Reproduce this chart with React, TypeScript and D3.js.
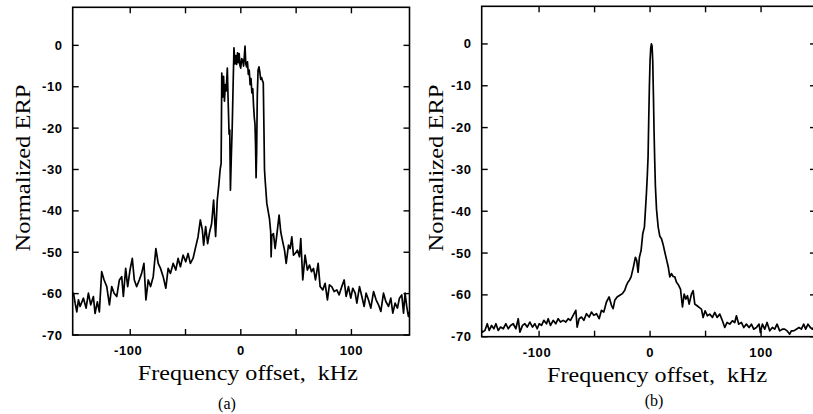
import React from "react";
import * as d3 from "d3";

// ---- data (kHz, normalized ERP dB) ----
const spectrumA: [number, number][] = [
  [-152, -60.5], [-151.3, -59.9], [-149.8, -62.3], [-148.3, -64.4], [-146.8, -61.5],
  [-145.3, -63.1], [-142.3, -61.1], [-139.9, -63.5], [-137.8, -59.9], [-135.7, -62.7],
  [-133.3, -60.7], [-131.8, -64.8], [-129.7, -62], [-127.9, -64.4], [-125.8, -54.7],
  [-123.6, -56.7], [-121.2, -58.3], [-118.8, -62.7], [-116.7, -58.3], [-114.6, -59.9],
  [-112.2, -60.7], [-109.8, -56.7], [-107.7, -55.9], [-106.2, -60.7], [-104.1, -53.9],
  [-102.3, -58.3], [-100.2, -54.3], [-98.1, -51.5], [-96.3, -56.7], [-94.2, -58.3],
  [-91.8, -56.7], [-89.7, -55.1], [-87.6, -52.7], [-85.8, -61.5], [-83.7, -56.7],
  [-81.6, -58.3], [-79.2, -55.9], [-76.8, -49.1], [-74.7, -52.7], [-72.6, -53.9],
  [-70.2, -55.9], [-67.8, -58.7], [-65.7, -53.9], [-63.6, -55.1], [-61.2, -52.7],
  [-58.8, -54.3], [-56.7, -51.5], [-54.6, -53.5], [-52.2, -50.7], [-49.8, -52.3],
  [-47.7, -50.3], [-45.6, -52.7], [-43.2, -51.5], [-40.8, -48.7], [-38.7, -46.3],
  [-36.6, -42.2], [-34.8, -44.6], [-33.6, -48.3], [-31.8, -43.8], [-30.0, -47.9],
  [-28.2, -45.1], [-26.4, -43.1], [-24.6, -37.4], [-22.8, -46.2], [-21.3, -37.4],
  [-19.8, -33.4], [-18.7, -30], [-17.8, -28.5], [-17.2, -6.7], [-16.4, -12.5],
  [-15.6, -7.5], [-14.8, -13.5], [-14.0, -9.5], [-13.2, -11], [-12.2, -5.5],
  [-11.4, -14], [-10.6, -21.5], [-10.0, -20.5], [-9.4, -35], [-8.6, -27],
  [-7.8, -20], [-7.0, -10], [-6.2, -0.6], [-5.4, -4.5], [-4.6, -2.5],
  [-3.8, -4.6], [-3.0, -1.8], [-2.2, -4.2], [-1.5, -2.0], [-0.8, -4.8],
  [-0.1, -5.5], [0.8, -3.2], [1.7, -3.6], [2.5, -5.0], [3.2, -2.5],
  [3.8, -0.2], [4.5, -4.5], [5.3, -5.2], [6.0, -4.0], [6.8, -7.0],
  [7.6, -6.0], [8.4, -9.5], [9.2, -8.0], [10.0, -11.5], [10.8, -10.5],
  [11.5, -14.5], [12.2, -17.5], [12.8, -19], [13.3, -24], [13.8, -32],
  [14.3, -26], [14.9, -12], [15.6, -6], [16.4, -5.2], [17.2, -6.5],
  [18.0, -8.2], [18.8, -7.8], [19.6, -8.6], [20.3, -9.0], [20.9, -20],
  [21.4, -30], [22.0, -32.6], [23.5, -38.2], [25.9, -41.9], [27.0, -45],
  [27.4, -51.1], [28.0, -45.9], [29.5, -45.5], [31.0, -49.1], [32.5, -45.9],
  [34.6, -41.0], [36.1, -45.1], [37.9, -47.5], [39.5, -49.5], [41.0, -52.7],
  [43.1, -48.3], [44.6, -49.1], [46.1, -46.3], [47.6, -50.7], [49.1, -50.3],
  [51.2, -49.5], [53.0, -51.1], [54.2, -46.7], [56.0, -56.7], [58.1, -50.7],
  [60.2, -54.3], [62.1, -53.1], [63.9, -54.7], [65.7, -53.9], [67.5, -56.7],
  [69.9, -52.7], [71.7, -58.3], [74.1, -59.1], [76.2, -57.5], [78.3, -61.5],
  [80.1, -57.9], [82.2, -58.3], [84.4, -59.5], [86.8, -59.1], [88.9, -60.3],
  [91.3, -58.3], [93.4, -56.7], [95.2, -60.7], [97.3, -58.3], [99.4, -61.1],
  [101.2, -58.7], [103.4, -59.9], [104.9, -62.3], [107.3, -58.3], [109.4, -60.7],
  [111.5, -63.1], [113.3, -59.9], [115.4, -61.5], [117.5, -63.5], [120.0, -59.5],
  [122.3, -61.5], [124.5, -62.7], [126.6, -64.3], [129.0, -59.9], [131.1, -61.9],
  [133.5, -63.1], [135.6, -61.1], [137.4, -64.7], [139.5, -62.3], [141.6, -63.5],
  [143.4, -61.1], [145.5, -60.3], [147.1, -64.7], [148.5, -59.9], [150.0, -63.1],
  [151.5, -65.5], [153, -64],
];

const spectrumB: [number, number][] = [
  [-152, -68.5], [-150.9, -68.9], [-148.8, -68.5], [-146.7, -66.9], [-144.9, -68.5],
  [-142.8, -67.3], [-140.7, -68.1], [-138.9, -66.9], [-136.8, -68.5], [-134.7, -67.7],
  [-132.3, -68.1], [-129.9, -66.9], [-127.8, -68.1], [-125.7, -67.3], [-123.3, -66.9],
  [-120.9, -68.1], [-118.8, -65.7], [-117.3, -68.9], [-114.9, -67.3], [-112.8, -66.9],
  [-110.7, -67.7], [-108.3, -66.5], [-105.9, -67.7], [-103.8, -66.9], [-101.7, -68.1],
  [-99.9, -66.9], [-97.8, -67.3], [-95.7, -66.1], [-93.3, -66.9], [-91.8, -65.7],
  [-89.7, -67.3], [-87.3, -66.1], [-84.9, -66.9], [-82.8, -65.7], [-80.7, -66.5],
  [-78.3, -66.1], [-75.9, -66.5], [-73.8, -65.7], [-71.7, -66.1], [-69.3, -64.9],
  [-66.9, -63.7], [-65.7, -67.7], [-63.9, -65.7], [-61.8, -65.3], [-59.7, -66.1],
  [-57.3, -64.5], [-54.9, -65.3], [-52.8, -64.1], [-50.7, -64.9], [-48.3, -64.5],
  [-45.9, -65.7], [-43.8, -63.7], [-41.7, -64.1], [-39.3, -61.7], [-36.9, -60.5],
  [-34.8, -62.5], [-33.3, -63.3], [-31.8, -61.3], [-29.7, -60.5], [-27.3, -60.1],
  [-24.9, -59.7], [-22.8, -58.9], [-21.3, -57.7], [-19.8, -56.9], [-18.6, -56.5],
  [-17.1, -55.7], [-15.0, -53.3], [-13.2, -51.0], [-12.0, -51.8], [-10.8, -54.6],
  [-9.6, -51.0], [-8.1, -49.4], [-6.6, -45.4], [-5.1, -43.8], [-4.2, -39.8],
  [-3.3, -35.8], [-2.5, -31.5], [-1.8, -27], [-1.2, -18], [-0.6, -10],
  [0, -4], [0.6, -1], [1.2, 0], [1.8, -0.5], [2.4, -4],
  [3.0, -12], [3.6, -21], [4.2, -28], [4.8, -34], [5.8, -39.5],
  [7.3, -43.8], [8.8, -46.0], [10.3, -46.6], [11.8, -48.0], [13.3, -49.8],
  [14.8, -51.5], [16.3, -53.2], [17.8, -55.7], [19.3, -54.9], [20.8, -55.6],
  [22.3, -55.7], [23.8, -57.0], [25.3, -57.5], [27.4, -58.6], [29.2, -62.9],
  [30.7, -59.8], [32.2, -61.0], [33.7, -60.2], [35.2, -62.2], [37.3, -59.8],
  [38.8, -59.0], [40.3, -62.2], [42.4, -62.6], [44.2, -63.0], [46.3, -63.4],
  [47.8, -65.4], [49.6, -63.8], [51.7, -65.0], [53.8, -64.6], [56.2, -65.4],
  [58.3, -64.2], [60.4, -65.4], [62.8, -64.6], [65.2, -66.2], [67.3, -67.8],
  [69.4, -66.6], [71.8, -67.0], [74.2, -66.2], [76.3, -66.6], [77.8, -65.0],
  [79.9, -67.0], [82.3, -66.6], [84.4, -67.8], [86.8, -67.0], [89.2, -67.8],
  [91.3, -67.0], [93.4, -68.2], [95.8, -67.8], [98.2, -67.0], [99.4, -69.0],
  [101.2, -67.0], [103.3, -68.2], [105.4, -66.6], [107.8, -68.6], [110.2, -67.8],
  [112.3, -68.2], [114.4, -67.0], [116.8, -68.6], [119.2, -68.2], [121.3, -68.2],
  [123.4, -68.6], [125.8, -69.4], [127.3, -68.6], [129.4, -68.6], [131.8, -68.2],
  [134.2, -67.8], [136.3, -68.2], [138.4, -67.0], [140.2, -68.2], [142.3, -67.0],
  [144.4, -67.8], [146.2, -68.2], [148.5, -67.5], [150, -68],
];

const yTicks = [0, -10, -20, -30, -40, -50, -60, -70];
const xTicks = [-100, -50, 0, 50, 100];
const xTickLabels = [-100, 0, 100];
const xTitle = "Frequency offset,  kHz";
const yTitle = "Normalized ERP";
const panelTags = ["(a)", "(b)"];

type PanelProps = {
  id: string;
  data: [number, number][];
  xDomain: [number, number];
  xRange: [number, number];
  yDomain: [number, number];
  yRange: [number, number];
  yTitleX: number;
  tag: string;
  tagX: number;
  tagY: number;
};

const tickFont = "'Liberation Sans', Arial, sans-serif";
const serifFont = "'Liberation Serif', 'Times New Roman', serif";

function Panel(p: PanelProps) {
  const x = d3.scaleLinear().domain(p.xDomain).range(p.xRange);
  const y = d3.scaleLinear().domain(p.yDomain).range(p.yRange);
  const [x0, x1] = p.xRange;
  const [yb, yt] = p.yRange;
  const line = d3
    .line<[number, number]>()
    .x((d) => x(d[0]))
    .y((d) => y(d[1]));
  const tl = 6;
  const xc = x(0) + 7;
  return (
    <g>
      <defs>
        <clipPath id={p.id}>
          <rect x={x0} y={yt} width={x1 - x0} height={yb - yt} />
        </clipPath>
      </defs>
      <path
        d={line(p.data) || ""}
        fill="none"
        stroke="#000"
        strokeWidth={1.7}
        strokeLinejoin="round"
        clipPath={`url(#${p.id})`}
      />
      <rect x={x0} y={yt} width={x1 - x0} height={yb - yt} fill="none" stroke="#000" strokeWidth={1.6} />
      {yTicks.map((t) => (
        <g key={"y" + t}>
          <line x1={x0} x2={x0 + tl} y1={y(t)} y2={y(t)} stroke="#000" strokeWidth={1.4} />
          <line x1={x1} x2={x1 - tl} y1={y(t)} y2={y(t)} stroke="#000" strokeWidth={1.4} />
          <text
            x={x0 - 10}
            y={y(t) + 4.5}
            textAnchor="end"
            fontFamily={tickFont}
            fontWeight="bold"
            fontSize={13}
            letterSpacing={0.6}
            fill="#000"
          >
            {t}
          </text>
        </g>
      ))}
      {xTicks.map((t) => (
        <g key={"x" + t}>
          <line x1={x(t)} x2={x(t)} y1={yb} y2={yb - tl} stroke="#000" strokeWidth={1.4} />
          <line x1={x(t)} x2={x(t)} y1={yt} y2={yt + tl} stroke="#000" strokeWidth={1.4} />
        </g>
      ))}
      {xTickLabels.map((t) => (
        <text
          key={"xl" + t}
          x={x(t) + (t < 0 ? -2 : 0)}
          y={yb + 20}
          textAnchor="middle"
          fontFamily={tickFont}
          fontWeight="bold"
          fontSize={13}
          letterSpacing={0.6}
          fill="#000"
        >
          {t}
        </text>
      ))}
      <text
        x={xc}
        y={yb + 45}
        textAnchor="middle"
        fontFamily={serifFont}
        fontSize={21}
        textLength={220}
        lengthAdjust="spacingAndGlyphs"
        fill="#000"
        style={{ whiteSpace: "pre" }}
      >
        {xTitle}
      </text>
      <text
        transform={`translate(${p.yTitleX},168) rotate(-90)`}
        textAnchor="middle"
        fontFamily={serifFont}
        fontSize={22}
        textLength={167}
        lengthAdjust="spacingAndGlyphs"
        fill="#000"
      >
        {yTitle}
      </text>
      <text x={p.tagX} y={p.tagY} textAnchor="middle" fontFamily={serifFont} fontSize={16} fill="#000">
        {p.tag}
      </text>
    </g>
  );
}

export default function App() {
  return (
    <svg
      width={813}
      height={414}
      viewBox="0 0 813 414"
      style={{ position: "absolute", left: 0, top: 0, background: "#fff" }}
    >
      <rect x={0} y={0} width={813} height={414} fill="#fff" />
      <Panel
        id="clipA"
        data={spectrumA}
        xDomain={[-152, 152.5]}
        xRange={[72.7, 409.5]}
        yDomain={[-70, 9.2]}
        yRange={[335, 7.3]}
        yTitleX={30}
        tag={panelTags[0]}
        tagX={227}
        tagY={409}
      />
      <Panel
        id="clipB"
        data={spectrumB}
        xDomain={[-151.7, 149.5]}
        xRange={[481.7, 816]}
        yDomain={[-70, 9]}
        yRange={[336.7, 6.3]}
        yTitleX={443}
        tag={panelTags[1]}
        tagX={654}
        tagY={406}
      />
    </svg>
  );
}
